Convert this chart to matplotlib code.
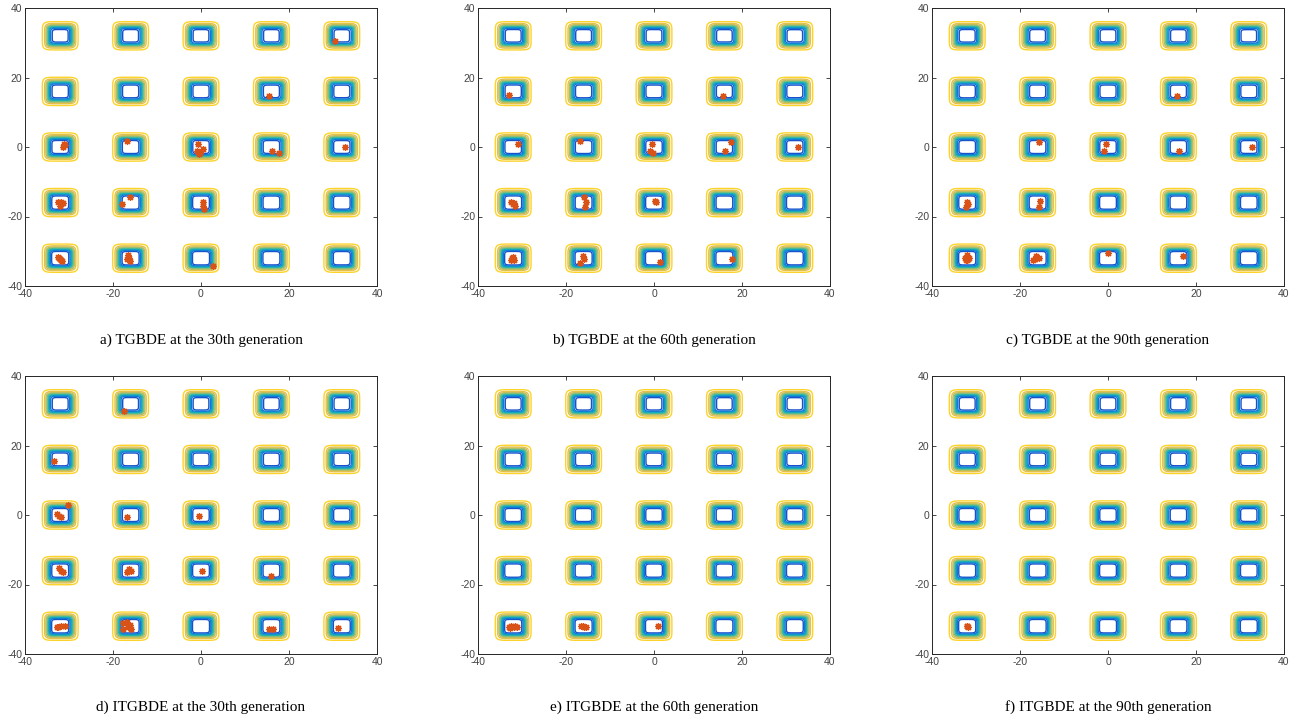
import numpy as np
import matplotlib
matplotlib.use("Agg")
import matplotlib.pyplot as plt
from matplotlib.colors import LinearSegmentedColormap

plt.rcParams["axes.unicode_minus"] = False

# foxhole centres (Shekel's foxholes, 5x5 grid)
hole_pos = [-32, -16, 0, 16, 32]

captions = [
    "a) TGBDE at the 30th generation",
    "b) TGBDE at the 60th generation",
    "c) TGBDE at the 90th generation",
    "d) ITGBDE at the 30th generation",
    "e) ITGBDE at the 60th generation",
    "f) ITGBDE at the 90th generation",
]

# population positions
a_x = [30.5, 15.5, -31.1, -31.3, -30.8, -16.9, -0.6, -1.0, -0.2, 0.4, -0.4, 16.1, 17.8, 32.7,
       -32.6, -31.8, -32.1, -31.4, -31.9, -18.0, -16.1, 0.4, 0.7, 0.5,
       -32.2, -31.8, -32.0, -31.6, -32.4, -16.5, -16.9, -16.1, -16.3, 2.7]
a_y = [30.5, 14.7, 0.8, 0.1, 0.5, 1.8, 0.8, -1.1, -1.6, -0.6, -2.0, -1.1, -1.7, 0.0,
       -15.9, -16.3, -17.0, -16.1, -15.7, -16.4, -14.3, -15.7, -17.9, -16.9,
       -31.9, -32.5, -32.2, -32.8, -31.7, -31.1, -32.3, -32.8, -31.8, -34.2]

b_x = [-33.0, 15.6, -31.0, -16.8, -0.5, -0.9, -0.2, 17.5, 16.2, 32.8,
       -32.6, -31.9, -31.5, -32.1, -15.9, -15.5, -15.6, 0.5, 0.3,
       -32.2, -31.8, -32.4, -32.0, -16.2, -15.9, -16.8, 1.3, 17.8]
b_y = [14.9, 14.7, 0.8, 1.8, 0.8, -1.1, -1.6, 1.4, -1.1, 0.0,
       -15.9, -16.2, -17.0, -16.5, -14.3, -15.7, -17.2, -15.9, -15.6,
       -31.9, -32.4, -32.6, -31.7, -31.4, -32.3, -33.5, -33.0, -32.2]

c_x = [15.6, -15.6, -0.4, -0.9, 16.1, 32.8, -32.0, -32.2, -31.9, -15.4, -15.6,
       -32.0, -32.4, -31.8, -31.6, -32.3, -32.0, -17.1, -16.3, -15.6, -16.7, -0.0, 17.1]
c_y = [14.7, 1.4, 0.8, -1.1, -1.1, 0.0, -15.9, -17.2, -16.4, -15.5, -17.2,
       -31.1, -32.0, -32.3, -31.9, -32.6, -32.4, -32.5, -31.4, -32.0, -32.2, -30.6, -31.4]

d_x = [-17.4, -33.3, -30.2, -32.7, -32.2, -31.8, -16.9, -0.4,
       -32.2, -31.8, -31.4, -16.9, -16.3, -15.8, 0.2, 15.8,
       -32.4, -31.9, -30.9, -32.8, -17.7, -16.9, -16.1, -15.8, -17.8, -16.5,
       15.5, 16.3, 31.2]
d_y = [29.9, 15.5, 2.9, 0.3, -0.3, -0.7, -0.7, -0.2,
       -15.3, -16.0, -16.3, -16.3, -15.6, -16.0, -16.0, -17.6,
       -32.1, -31.9, -31.8, -32.3, -31.2, -30.7, -31.7, -32.9, -32.9, -32.1,
       -32.9, -32.9, -32.6]

e_x = [-33.0, -32.4, -31.8, -31.2, -32.7, -31.5, -16.6, -16.0, -15.4, -16.2, 0.8]
e_y = [-32.2, -32.0, -32.1, -32.3, -32.5, -31.8, -32.0, -32.3, -32.1, -31.8, -32.0]

f_x = [-32.0, -31.9, -32.1]
f_y = [-32.0, -32.1, -31.9]

pop_x = [a_x, b_x, c_x, d_x, e_x, f_x]
pop_y = [a_y, b_y, c_y, d_y, e_y, f_y]

# parula-like colour map
parula = LinearSegmentedColormap.from_list(
    "parula", ["#352a87", "#0f5cdd", "#1481d6", "#06a4ca", "#2eb7a4",
               "#87bf77", "#d1bb59", "#fec832", "#f9fb0e"])

# foxhole function on a grid
g = np.linspace(-40, 40, 801)
X, Y = np.meshgrid(g, g)
ax_c, ay_c = np.meshgrid(hole_pos, hole_pos)
ax_c = ax_c.ravel()
ay_c = ay_c.ravel()
s = np.zeros_like(X)
for j in range(25):
    s += 1.0 / (j + 1 + (X - ax_c[j]) ** 6 + (Y - ay_c[j]) ** 6)
Z = 1.0 / (0.002 + s)
levels = np.arange(50, 500, 50)

fig = plt.figure(figsize=(13.07, 7.24), dpi=100)
lefts = [25 / 1307, 478 / 1307, 932 / 1307]
bottoms = [1 - 286 / 724, 1 - 654 / 724]
w = 352 / 1307
h = 278 / 724
cap_y = [1 - 340 / 724, 1 - 707 / 724]

for i in range(6):
    r, c = divmod(i, 3)
    ax = fig.add_axes([lefts[c], bottoms[r], w, h])
    ax.contour(X, Y, Z, levels=levels, cmap=parula, vmin=Z.min(), vmax=Z.max(),
               linewidths=1.0)
    ax.plot(pop_x[i], pop_y[i], linestyle="none", marker=(8, 2, 0), markersize=5,
            color="#d95319", markeredgewidth=0.9)
    ax.set_xlim(-40, 40)
    ax.set_ylim(-40, 40)
    ax.set_xticks([-40, -20, 0, 20, 40])
    ax.set_yticks([-40, -20, 0, 20, 40])
    ax.tick_params(direction="in", length=3, width=0.6, top=True, right=True,
                   labelsize=7.5, colors="#262626", labelcolor="#444444", pad=2)
    for sp in ax.spines.values():
        sp.set_linewidth(0.7)
        sp.set_color("#262626")
    for lab in ax.get_xticklabels() + ax.get_yticklabels():
        lab.set_family("Liberation Sans")
    fig.text(lefts[c] + w / 2, cap_y[r], captions[i], ha="center", va="center",
             family="Liberation Serif", fontsize=11)

fig.savefig("out.png", dpi=100)
